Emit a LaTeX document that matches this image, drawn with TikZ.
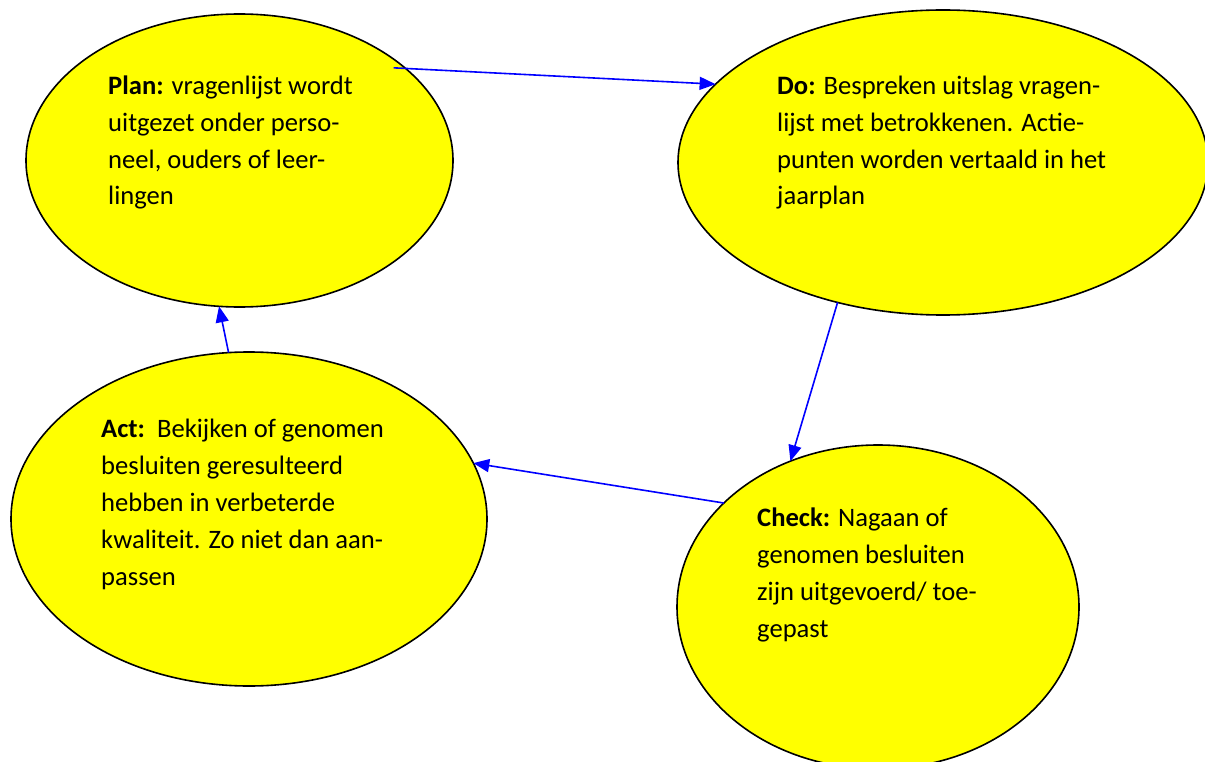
\documentclass[tikz,border=0pt]{standalone}
\usepackage{fontspec}
\setmainfont{Carlito}
\usepackage{tikz}
\usetikzlibrary{shapes,arrows.meta,positioning}
\definecolor{fillyellow}{RGB}{255,255,0}
\definecolor{arrowblue}{RGB}{0,0,255}
\tikzset{
  phase/.style={ellipse,draw=black,line width=1.6pt,fill=fillyellow,inner sep=0pt,outer sep=0pt},
  phasetext/.style={anchor=base west,align=left,inner sep=0pt,font=\fontsize{26.6}{36.8}\selectfont},
  cyclearrow/.style={draw=arrowblue,line width=1.6pt,-{Triangle[width=13pt,length=16pt]}}
}
\begin{document}
\begin{tikzpicture}[x=1pt,y=-1pt]
\useasboundingbox (0,0) rectangle (1205,762);
\fill[white] (0,0) rectangle (1205,762);
%%%%% the four phases:
\node[phase,minimum width=427pt,minimum height=293pt] (plan)  at (239.5,160.5) {};
\node[phase,minimum width=530pt,minimum height=305pt] (do)    at (943,162.5) {};
\node[phase,minimum width=476pt,minimum height=334pt] (act)   at (249,519) {};
\node[phase,minimum width=402pt,minimum height=324pt] (check) at (878,607) {};
%%%%% texts (placed at the baseline of their last line):
\node[phasetext] (plantext) at (108,205) {\textbf{Plan:} vragenlijst wordt\\uitgezet onder perso-\\neel, ouders of leer-\\lingen};
\node[phasetext] (dotext) at (777,205) {\textbf{Do:} Bespreken uitslag vragen-\\lijst met betrokkenen. Actie-\\punten worden vertaald in het\\jaarplan};
\node[phasetext] (acttext) at (101,585) {\textbf{Act:}\ \ Bekijken of genomen\\besluiten geresulteerd\\hebben in verbeterde\\kwaliteit. Zo niet dan aan-\\passen};
\node[phasetext] (checktext) at (757,637) {\textbf{Check:} Nagaan of\\genomen besluiten\\zijn uitgevoerd/ toe-\\gepast};
%%%%% cycle:
\draw[cyclearrow,shorten <=-12pt] (plan.29.7) -- (do.161.3);
\draw[cyclearrow] (do.233.6) -- (check.121.2);
\draw[cyclearrow] (check.146.6) -- (act.14.6);
\draw[cyclearrow] (act.97.3) -- (plan.262.4);
\end{tikzpicture}
\end{document}
